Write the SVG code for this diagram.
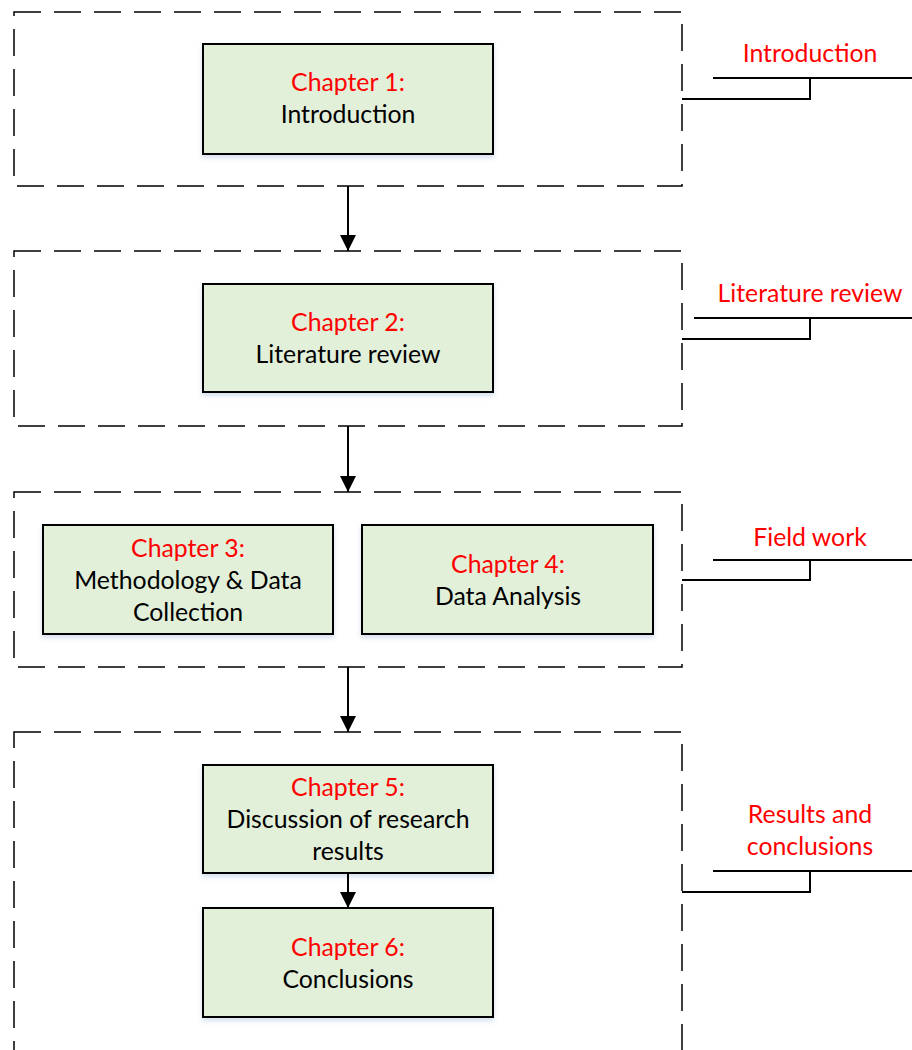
<svg xmlns="http://www.w3.org/2000/svg" width="912" height="1050" viewBox="0 0 912 1050">
<defs>
<style>
.frame{fill:none;stroke:#000;stroke-width:1.5;stroke-dasharray:27 13}
.node{fill:#E2EFD9;stroke:#000;stroke-width:2;filter:url(#sh)}
.t{font-family:Lato,"Liberation Sans",sans-serif;font-size:24.8px;text-anchor:middle;fill:#000}
.r{fill:#FF0000}
.ln{fill:none;stroke:#000;stroke-width:2}
</style>
<filter id="sh" x="-10%" y="-10%" width="120%" height="130%">
<feDropShadow dx="0" dy="3" stdDeviation="2.5" flood-color="#9fb7d8" flood-opacity="0.45"/>
</filter>
<marker id="ah" markerWidth="16" markerHeight="16" viewBox="0 0 16 16" refX="16" refY="8" orient="auto" markerUnits="userSpaceOnUse">
<path d="M0,0 L16,8 L0,16 Z" fill="#000"/>
</marker>
</defs>
<rect width="912" height="1050" fill="#fff"/>
<g id="frames">
<rect class="frame" x="14" y="12" width="668" height="174"/>
<rect class="frame" x="14" y="251" width="668" height="175"/>
<rect class="frame" x="14" y="492" width="668" height="175"/>
<rect class="frame" x="14" y="732" width="668" height="340"/>
</g>
<g id="n1"><rect class="node" x="203" y="44" width="290" height="110"/>
<text class="t r" x="348" y="91">Chapter 1:</text><text class="t" x="348" y="123">Introduction</text></g>
<g id="n2"><rect class="node" x="203" y="284" width="290" height="108"/>
<text class="t r" x="348" y="331">Chapter 2:</text><text class="t" x="348" y="363">Literature review</text></g>
<g id="n3"><rect class="node" x="43" y="525" width="290" height="109"/>
<text class="t r" x="188" y="557">Chapter 3:</text><text class="t" x="188" y="589">Methodology &amp; Data</text><text class="t" x="188" y="621">Collection</text></g>
<g id="n4"><rect class="node" x="362" y="525" width="291" height="109"/>
<text class="t r" x="508" y="573">Chapter 4:</text><text class="t" x="508" y="605">Data Analysis</text></g>
<g id="n5"><rect class="node" x="203" y="765" width="290" height="108"/>
<text class="t r" x="348" y="796">Chapter 5:</text><text class="t" x="348" y="828">Discussion of research</text><text class="t" x="348" y="860">results</text></g>
<g id="n6"><rect class="node" x="203" y="908" width="290" height="109"/>
<text class="t r" x="348" y="956">Chapter 6:</text><text class="t" x="348" y="988">Conclusions</text></g>
<g id="labels">
<text class="t r" x="810" y="62">Introduction</text>
<text class="t r" x="810" y="302">Literature review</text>
<text class="t r" x="810" y="546">Field work</text>
<text class="t r" x="810" y="823">Results and</text>
<text class="t r" x="810" y="855">conclusions</text>
</g>
<g id="connectors">
<line class="ln" x1="348" y1="186" x2="348" y2="251" marker-end="url(#ah)"/>
<line class="ln" x1="348" y1="426" x2="348" y2="492" marker-end="url(#ah)"/>
<line class="ln" x1="348" y1="667" x2="348" y2="732" marker-end="url(#ah)"/>
<line class="ln" x1="348" y1="873" x2="348" y2="908" marker-end="url(#ah)"/>
<path class="ln" d="M682,99 H810 V78 M713,78 H912"/>
<path class="ln" d="M682,339 H810 V318 M694,318 H912"/>
<path class="ln" d="M682,580 H810 V560 M713,560 H912"/>
<path class="ln" d="M682,892 H810 V871 M713,871 H912"/>
</g>
</svg>
